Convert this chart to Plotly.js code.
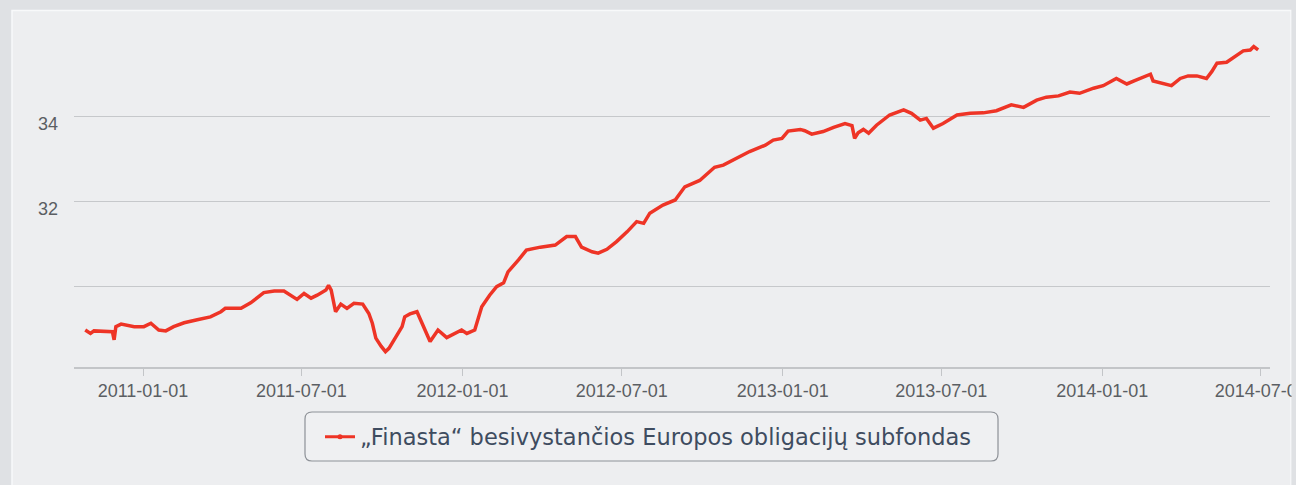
<!DOCTYPE html>
<html>
<head>
<meta charset="utf-8">
<script src="https://cdn.plot.ly/plotly-3.0.1.min.js"></script>
<style>
  html, body { margin: 0; padding: 0; background: #dfe1e4; }
  #chart { width: 1296px; height: 485px; }
</style>
</head>
<body>
<div id="chart"></div>
<script>
// ---- data ----
const seriesName = '„Finasta“ besivystančios Europos obligacijų subfondas';

const dates = [
  '2010-10-27','2010-11-02','2010-11-06','2010-11-27','2010-11-29','2010-12-01','2010-12-07','2010-12-22','2011-01-02','2011-01-10',
  '2011-01-19','2011-01-27','2011-02-05','2011-02-17','2011-03-04','2011-03-19','2011-03-31','2011-04-05','2011-04-23','2011-05-04',
  '2011-05-19','2011-05-31','2011-06-11','2011-06-26','2011-07-04','2011-07-12','2011-07-19','2011-07-29','2011-08-01','2011-08-04',
  '2011-08-09','2011-08-15','2011-08-22','2011-08-30','2011-09-09','2011-09-16','2011-09-20','2011-09-24','2011-09-30','2011-10-05',
  '2011-10-09','2011-10-17','2011-10-24','2011-10-27','2011-11-02','2011-11-10','2011-11-13','2011-11-19','2011-11-25','2011-12-04',
  '2011-12-14','2011-12-31','2012-01-06','2012-01-15','2012-01-23','2012-02-01','2012-02-09','2012-02-17','2012-02-22','2012-03-05',
  '2012-03-14','2012-03-30','2012-04-16','2012-04-29','2012-05-09','2012-05-16','2012-05-28','2012-06-04','2012-06-14','2012-06-25',
  '2012-07-07','2012-07-18','2012-07-26','2012-08-02','2012-08-17','2012-08-31','2012-09-11','2012-09-28','2012-10-15','2012-10-25',
  '2012-11-09','2012-11-24','2012-12-12','2012-12-21','2012-12-31','2013-01-07','2013-01-21','2013-01-26','2013-02-03','2013-02-16',
  '2013-02-28','2013-03-13','2013-03-21','2013-03-24','2013-03-28','2013-04-03','2013-04-09','2013-04-18','2013-05-03','2013-05-19',
  '2013-05-28','2013-06-07','2013-06-14','2013-06-22','2013-07-03','2013-07-19','2013-08-03','2013-08-18','2013-09-02','2013-09-10',
  '2013-09-19','2013-10-03','2013-10-18','2013-10-29','2013-11-12','2013-11-25','2013-12-06','2013-12-22','2014-01-02','2014-01-17',
  '2014-01-29','2014-02-07','2014-02-19','2014-02-25','2014-02-28','2014-03-10','2014-03-21','2014-03-31','2014-04-09','2014-04-19',
  '2014-04-30','2014-05-06','2014-05-12','2014-05-23','2014-06-04','2014-06-11','2014-06-19','2014-06-23','2014-06-28'
];

const values = [
  28.98,28.90,28.96,28.94,28.75,29.06,29.12,29.06,29.06,29.14,
  28.98,28.96,29.06,29.15,29.22,29.29,29.41,29.49,29.49,29.62,
  29.86,29.90,29.90,29.70,29.84,29.73,29.80,29.92,30.03,29.92,
  29.41,29.59,29.49,29.61,29.59,29.37,29.14,28.79,28.60,28.47,
  28.55,28.82,29.06,29.29,29.36,29.41,29.26,28.98,28.71,28.98,
  28.80,28.98,28.90,28.98,29.53,29.80,30.00,30.09,30.35,30.63,
  30.86,30.93,30.98,31.18,31.18,30.93,30.82,30.79,30.88,31.06,
  31.29,31.53,31.49,31.73,31.92,32.04,32.35,32.50,32.81,32.86,
  33.02,33.18,33.33,33.45,33.49,33.66,33.70,33.67,33.59,33.65,
  33.75,33.84,33.79,33.49,33.62,33.70,33.61,33.80,34.04,34.16,
  34.08,33.92,33.96,33.73,33.84,34.04,34.08,34.09,34.14,34.20,
  34.28,34.22,34.39,34.46,34.49,34.58,34.55,34.67,34.73,34.90,
  34.77,34.85,34.94,35.00,34.84,34.79,34.73,34.90,34.96,34.96,
  34.90,35.06,35.26,35.28,35.45,35.55,35.57,35.65,35.57
];

const xTickVals = ['2011-01-01','2011-07-01','2012-01-01','2012-07-01','2013-01-01','2013-07-01','2014-01-01','2014-07-01'];
const xTickText = ['2011-01-01','2011-07-01','2012-01-01','2012-07-01','2013-01-01','2013-07-01','2014-01-01','2014-07-01'];
const yTickVals = [30, 32, 34];
const yTickText = ['', '32', '34'];

// ---- layout geometry ----
const W = 1296, H = 485;
const M = { l: 74, r: 26, t: 30, b: 118 };
const PW = W - M.l - M.r, PH = H - M.t - M.b;
const px2x = px => (px - M.l) / PW;
const py2y = py => (H - M.b - py) / PH;

function roundRect(x0, y0, x1, y1, r) {
  const P = (x, y) => px2x(x).toFixed(5) + ',' + py2y(y).toFixed(5);
  return `M${P(x0 + r, y0)} L${P(x1 - r, y0)} Q${P(x1, y0)} ${P(x1, y0 + r)} ` +
         `L${P(x1, y1 - r)} Q${P(x1, y1)} ${P(x1 - r, y1)} ` +
         `L${P(x0 + r, y1)} Q${P(x0, y1)} ${P(x0, y1 - r)} ` +
         `L${P(x0, y0 + r)} Q${P(x0, y0)} ${P(x0 + r, y0)} Z`;
}

const traces = [
  {
    x: dates, y: values, type: 'scatter', mode: 'lines',
    line: { color: '#ee3426', width: 3.5 },
    showlegend: false, hoverinfo: 'x+y'
  },
  {
    x: [null], y: [null], type: 'scatter', mode: 'lines+markers',
    name: seriesName,
    line: { color: '#ee3426', width: 3 },
    marker: { color: '#ee3426', size: 5, symbol: 'circle' },
    showlegend: true
  }
];

const tickFont = { family: 'Liberation Sans, Arial, sans-serif', size: 18, color: '#5b5e63' };

const layout = {
  width: W, height: H,
  margin: M,
  paper_bgcolor: '#dfe1e4',
  plot_bgcolor: 'rgba(0,0,0,0)',
  showlegend: true,
  xaxis: {
    type: 'date',
    range: ['2010-10-14 04:00', '2014-07-11 13:30'],
    tickmode: 'array', tickvals: xTickVals, ticktext: xTickText,
    ticks: 'outside', ticklen: 7, tickwidth: 1, tickcolor: '#c3c5c8',
    showline: true, linecolor: '#c3c5c8', linewidth: 1.5,
    showgrid: false, zeroline: false,
    ticklabeloverflow: 'allow',
    tickfont: tickFont
  },
  yaxis: {
    range: [28.11, 36.04],
    tickmode: 'array', tickvals: yTickVals, ticktext: yTickText,
    showgrid: true, gridcolor: '#c6c8cb', gridwidth: 1.5,
    zeroline: false, showline: false, ticks: '',
    ticklabelstandoff: 15, ticklabelshift: 7,
    tickfont: tickFont
  },
  legend: {
    x: px2x(320), xanchor: 'left',
    y: py2y(437), yanchor: 'middle',
    bgcolor: 'rgba(0,0,0,0)', borderwidth: 0,
    font: { family: 'DejaVu Sans, sans-serif', size: 22.5, color: '#3e4c60' }
  },
  shapes: [
    { type: 'rect', xref: 'paper', yref: 'paper', layer: 'below',
      x0: px2x(12), x1: px2x(1291), y0: py2y(490), y1: py2y(10.5),
      fillcolor: '#edeef0', line: { color: '#f8f9fa', width: 1.5 } },
    { type: 'path', xref: 'paper', yref: 'paper', layer: 'below',
      path: roundRect(305, 412, 998, 461, 7),
      fillcolor: '#eff0f2', line: { color: '#8d9197', width: 1.2 } },
    { type: 'rect', xref: 'paper', yref: 'paper', layer: 'above',
      x0: px2x(1291.5), x1: px2x(1300), y0: py2y(490), y1: py2y(-5),
      fillcolor: '#dfe1e4', line: { width: 0 } }
  ]
};

Plotly.newPlot('chart', traces, layout, { displayModeBar: false, staticPlot: true });
</script>
</body>
</html>
